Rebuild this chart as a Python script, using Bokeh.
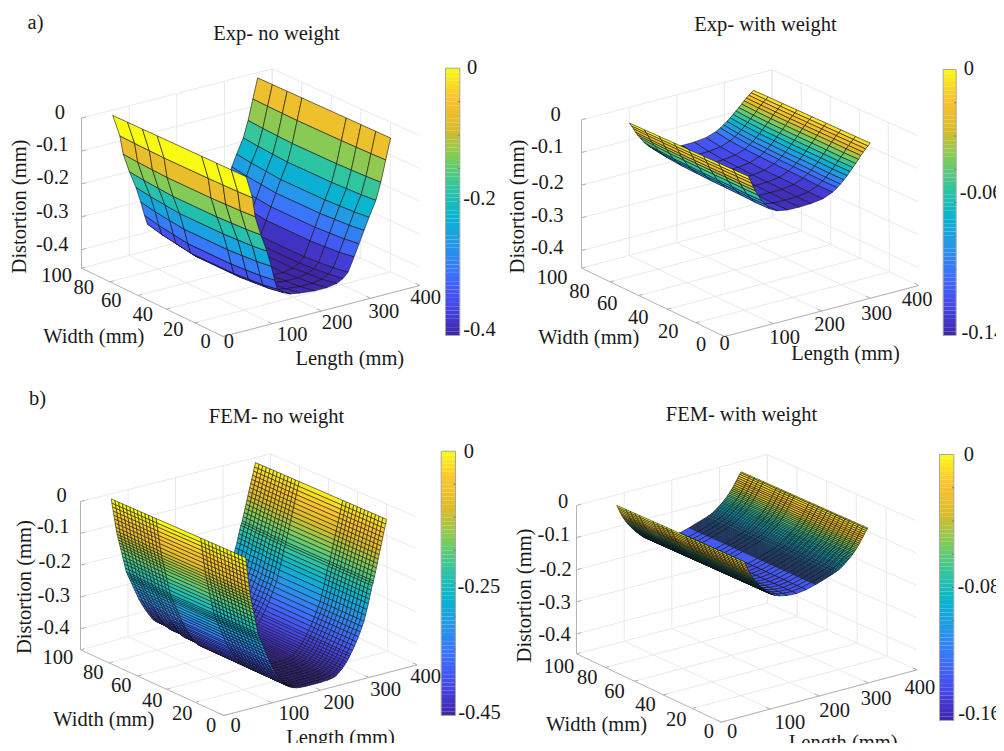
import numpy as np
from bokeh.plotting import figure
from bokeh.models import Range1d, ColumnDataSource
from bokeh.core.properties import value
from bokeh.embed import file_html
from bokeh.resources import INLINE

# ---------- values ----------
z_ticks = [0, -0.1, -0.2, -0.3, -0.4]
z_labels = ["0", "-0.1", "-0.2", "-0.3", "-0.4"]
w_ticks = [100, 80, 60, 40, 20, 0]
l_ticks = [0, 100, 200, 300, 400]

# Exp - no weight
a_L = [50, 65, 72, 85, 99, 109, 117, 123, 135, 150, 170, 200, 225, 245, 258, 268, 280, 290, 300, 310, 324, 334, 344, 354]
a_Z = [0, -.07, -.13, -.19, -.245, -.295, -.34, -.37, -.385, -.395, -.40, -.405, -.405, -.40, -.39, -.375, -.333, -.297, -.26, -.224, -.178, -.127, -.063, 0]
a_W = [5, 15, 25, 35, 65, 75, 85, 95]
a_R = [1.0, 1.02, 1.03, 1.04, 1.04, 1.02, 1.0, .97]

# Exp - with weight
b_L = [54, 58, 62, 66, 70, 76, 84, 92, 102, 118, 140, 165, 190, 215, 235, 245, 252, 259, 266, 272, 278, 284, 290, 295, 300, 305, 310, 315]
b_Z = [0, -.012, -.024, -.038, -.05, -.065, -.085, -.1, -.117, -.129, -.135, -.136, -.135, -.13, -.118, -.108, -.1, -.09, -.08, -.07, -.06, -.05, -.04, -.03, -.022, -.014, -.007, 0]
b_W = [5, 15, 25, 35, 45, 55, 65, 75, 85]
b_R = [1, 1, .98, .97, .96, .94, .92, .88, .82]

# FEM - no weight
c_L = [49, 50.4, 51.8, 53.2, 54.6, 56, 57.4, 58.8, 60.2, 61.6, 63, 64.5, 66, 67.5, 69, 71, 73, 75, 77, 79, 81, 83, 85, 87, 89,
       92, 95, 98, 101, 104, 107, 110, 113, 116, 119, 122, 125, 128, 131, 134, 137, 141, 145, 149, 153, 157, 161, 165, 169,
       173, 177, 181, 185, 189, 193, 197, 201, 205, 209, 213, 217, 221, 225, 229, 233, 237, 241,
       245, 248, 251, 254, 257, 260, 263, 266, 269, 272, 275, 277, 281, 285, 289, 293, 297, 301, 305, 308, 311, 314, 316, 318,
       320, 322, 324, 325, 327, 329, 331, 333, 335, 337, 339, 341, 343, 345, 347, 349, 351, 353]
c_Z = [0, -.014, -.027, -.041, -.055, -.068, -.082, -.096, -.109, -.12, -.13, -.14, -.15, -.16, -.17, -.183, -.197, -.21, -.223, -.237, -.25, -.258, -.266, -.273, -.281,
       -.292, -.304, -.315, -.326, -.337, -.349, -.358, -.368, -.376, -.385, -.393, -.40, -.408, -.415, -.422, -.429, -.435, -.44, -.444, -.448, -.451, -.453, -.455, -.456,
       -.457, -.457, -.458, -.458, -.458, -.458, -.458, -.458, -.458, -.458, -.458, -.458, -.457, -.457, -.457, -.456, -.455, -.454,
       -.452, -.449, -.445, -.441, -.437, -.432, -.427, -.421, -.415, -.408, -.40, -.394, -.384, -.372, -.36, -.346, -.332, -.317, -.302, -.284, -.267, -.25, -.236, -.223,
       -.21, -.197, -.19, -.183, -.17, -.157, -.144, -.131, -.118, -.105, -.092, -.079, -.066, -.053, -.04, -.027, -.014, 0]
c_W = [5, 7.5, 10, 12.5, 15, 17.5, 20, 22.5, 25, 27.5, 30, 32.5, 35, 65, 67.5, 70, 72.5, 75, 77.5, 80, 82.5, 85, 87.5, 90, 92.5, 95]
c_R = [1, 1, 1, 1, 1, 1, 1, 1, 1, 1, 1, 1, 1, 1, .99, .99, .99, .99, .98, .98, .98, .98, .97, .97, .97, .97]

# FEM - with weight
d_L = [53, 55, 57, 59, 61, 63, 65, 67, 69, 71, 73, 75, 77, 79, 81, 83, 85, 87, 89, 91, 93, 95, 97, 99, 101, 103, 105, 107, 109, 111, 113,
       120, 130, 145, 165, 185, 205,
       207, 209, 211, 213, 215, 217, 219, 221, 223, 225, 227, 229, 231, 233, 235, 237, 239, 241, 243, 245, 247, 249, 251, 253, 255, 257, 259,
       261, 263, 265, 267, 269, 271, 273, 275, 277, 279, 281, 283, 285, 287, 289, 291, 293, 295, 297, 299, 301, 303, 305, 307, 309, 311, 313, 315]
d_Z = [0, -.007, -.014, -.021, -.028, -.034, -.04, -.045, -.05, -.055, -.06, -.064, -.068, -.072, -.076, -.08, -.083, -.087, -.09, -.094, -.097, -.1, -.103, -.106, -.109, -.112, -.115, -.118, -.12, -.122, -.124,
       -.13, -.135, -.14, -.142, -.138, -.13,
       -.129, -.128, -.127, -.126, -.125, -.124, -.123, -.122, -.121, -.12, -.119, -.118, -.117, -.116, -.115, -.114, -.113, -.112, -.111, -.109, -.108, -.107, -.105, -.104, -.102, -.1, -.098,
       -.096, -.094, -.091, -.089, -.086, -.084, -.081, -.079, -.076, -.073, -.07, -.067, -.063, -.06, -.056, -.052, -.048, -.044, -.04, -.035, -.03, -.025, -.021, -.016, -.011, -.006, -.002, 0]
d_W = [5, 8, 11, 14, 17, 20, 23, 26, 29, 32, 35, 38, 41, 44, 54, 57, 60, 63, 66, 75, 78, 81, 84, 90]
d_R = [1] * 24

# parula-like colour map, low to high
cmap_rgb = [(62, 38, 168), (71, 71, 235), (62, 111, 255), (39, 150, 235), (8, 181, 208), (49, 198, 159),
            (129, 204, 89), (220, 189, 41), (252, 195, 48), (249, 251, 21)]


def parula(fr):
    fr = np.clip(fr, 0, 1)
    keys = np.linspace(0, 1, len(cmap_rgb))
    arr = np.array(cmap_rgb, float)
    rgb = np.stack([np.interp(fr, keys, arr[:, k]) for k in range(3)], axis=-1).astype(int)
    return ["#%02x%02x%02x" % tuple(c) for c in np.atleast_2d(rgb)]


# ---------- layout (reference positions at 3x, with panel offset) ----------
panels = [
    dict(off=(0, 0), L=a_L, Z=a_Z, W=a_W, R=a_R, cmin=-.408, zb=-.456, lw=.8, la=.75,
         floor=[(668, 1008), (1258, 855), (243, 803), (815, 650)],
         top=[(688, 558), (1258, 405), (243, 353), (815, 205)],
         cb=(1335, 1378, 203, 1005), cbl=[("0", 1415, 200), ("-0.2", 1437, 592), ("-0.4", 1437, 985)],
         zt=[(178, 333), (155, 430), (157, 530), (155, 632), (155, 730)],
         wt=[(168, 822), (250, 860), (332, 898), (427, 940), (518, 985), (615, 1022)],
         lt=[(685, 1020), (875, 1000), (1010, 965), (1150, 930), (1275, 888)],
         wl=(280, 1005), ll=(1048, 1072), dl=(55, 618)),
    dict(off=(500, 0), L=b_L, Z=b_Z, W=b_W, R=b_R, cmin=-.14, zb=-.454, lw=.8, la=.75,
         floor=[(672, 1008), (1255, 855), (243, 803), (815, 650)],
         top=[(690, 558), (1250, 405), (243, 358), (815, 208)],
         cb=(1328, 1367, 207, 1005), cbl=[("0", 1405, 203), ("-0.06", 1442, 575), ("-0.14", 1447, 995)],
         zt=[(165, 340), (140, 437), (142, 543), (140, 643), (140, 740)],
         wt=[(155, 830), (237, 870), (320, 908), (413, 948), (503, 992), (602, 1030)],
         lt=[(672, 1028), (852, 1008), (987, 970), (1128, 938), (1250, 895)],
         wl=(265, 1010), ll=(1035, 1058), dl=(50, 618)),
    dict(off=(0, 380), L=c_L, Z=c_Z, W=c_W, R=c_R, cmin=-.46, zb=-.466, lw=.7, la=.8,
         floor=[(670, 1005), (1250, 853), (240, 808), (810, 650)],
         top=[(690, 560), (1245, 408), (240, 363), (810, 220)],
         cb=(1322, 1365, 212, 1005), cbl=[("0", 1405, 210), ("-0.25", 1435, 617), ("-0.45", 1437, 995)],
         zt=[(183, 342), (158, 437), (163, 540), (160, 642), (158, 738)],
         wt=[(172, 828), (278, 875), (362, 912), (455, 958), (545, 998), (632, 1033)],
         lt=[(705, 1033), (880, 998), (1015, 965), (1155, 925), (1275, 885)],
         wl=(310, 1015), ll=(1020, 1070), dl=(70, 620)),
    dict(off=(500, 380), L=d_L, Z=d_Z, W=d_W, R=d_R, cmin=-.165, zb=-.462, lw=.7, la=.85,
         floor=[(662, 1025), (1250, 868), (228, 820), (800, 668)],
         top=[(680, 575), (1245, 420), (228, 375), (800, 222)],
         cb=(1317, 1360, 222, 1020), cbl=[("0", 1405, 220), ("-0.08", 1435, 615), ("-0.16", 1437, 998)],
         zt=[(188, 362), (160, 460), (165, 565), (162, 665), (162, 760)],
         wt=[(175, 855), (260, 890), (342, 930), (435, 970), (527, 1015), (625, 1050)],
         lt=[(695, 1050), (868, 1025), (1002, 988), (1127, 952), (1258, 920)],
         wl=(288, 1030), ll=(1028, 1083), dl=(70, 645)),
]
titles = [("Exp- no weight", 276, 32), ("Exp- with weight", 765, 23), ("FEM- no weight", 276, 415), ("FEM- with weight", 741, 413)]
letters = [("a)", 35, 21), ("b)", 37, 397)]

FONT = value("Liberation Serif")
p = figure(width=996, height=743, x_range=Range1d(0, 996), y_range=Range1d(743, 0),
           output_backend="svg", toolbar_location=None, min_border=0)
p.axis.visible = False
p.grid.visible = False
p.outline_line_color = None


def text(s, x, y, size=20.5, angle=0.0):
    p.text([x], [y], text=[s], text_font=FONT, text_font_size=f"{size}px", text_align="center",
           text_baseline="middle", text_color="#1a1a1a", angle=angle)


def project(P, L, W, z):
    u, v = np.asarray(L, float) / 400, np.asarray(W, float) / 100
    t = (np.asarray(z, float) - P["zb"]) / (0 - P["zb"])
    out = []
    for k in range(2):
        f = [c[k] for c in P["floor"]]
        g = [c[k] for c in P["top"]]
        lo = (1 - u) * (1 - v) * f[0] + u * (1 - v) * f[1] + (1 - u) * v * f[2] + u * v * f[3]
        hi = (1 - u) * (1 - v) * g[0] + u * (1 - v) * g[1] + (1 - u) * v * g[2] + u * v * g[3]
        out.append((lo + (hi - lo) * t) / 3 + P["off"][k])
    return out


def seg(P, xs, ys, L0, W0, Z0, L1, W1, Z1):
    a = project(P, L0, W0, Z0)
    b = project(P, L1, W1, Z1)
    xs.append([float(a[0]), float(b[0])])
    ys.append([float(a[1]), float(b[1])])


for P in panels:
    zb = P["zb"]
    # back-wall and floor grid
    gx, gy = [], []
    for t in l_ticks[1:]:
        seg(P, gx, gy, t, 100, zb, t, 100, 0)
        seg(P, gx, gy, t, 0, zb, t, 100, zb)
    for t in w_ticks[:-1]:
        seg(P, gx, gy, 400, t, zb, 400, t, 0)
    for t in w_ticks:
        seg(P, gx, gy, 0, t, zb, 400, t, zb)
    for t in z_ticks:
        seg(P, gx, gy, 0, 100, t, 400, 100, t)
        seg(P, gx, gy, 400, 100, t, 400, 0, t)
    p.multi_line(gx, gy, line_color="#e9e9e9", line_width=1)
    # axis lines and ticks
    ax, ay = [], []
    seg(P, ax, ay, 0, 0, zb, 400, 0, zb)
    seg(P, ax, ay, 0, 0, zb, 0, 100, zb)
    seg(P, ax, ay, 0, 100, zb, 0, 100, 0)
    for t in l_ticks:
        seg(P, ax, ay, t, 0, zb, t, 3, zb)
    for t in w_ticks:
        seg(P, ax, ay, 0, t, zb, 8, t, zb)
    for t in z_ticks:
        seg(P, ax, ay, 0, 100, t, 10, 100, t)
    p.multi_line(ax, ay, line_color="#b4b4b4", line_width=1)

    # surface: far faces first, coloured MATLAB-style from the low-index vertex
    Ls, Ws, Z0 = np.array(P["L"], float), np.array(P["W"], float), np.array(P["Z"], float)
    Z = np.outer(Z0, np.array(P["R"], float))
    fx, fy, fc = [], [], []
    for i in range(len(Ls) - 2, -1, -1):
        for j in range(len(Ws) - 2, -1, -1):
            ii = [i, i + 1, i + 1, i]
            jj = [j, j, j + 1, j + 1]
            x, y = project(P, Ls[ii], Ws[jj], Z[ii, jj])
            fx.append(x.tolist())
            fy.append(y.tolist())
            fc.append(parula(np.array([1 - Z[i, j] / P["cmin"]]))[0])
    p.patches(fx, fy, fill_color=fc, line_color="#101010", line_alpha=P["la"], line_width=P["lw"])

    # colour bar
    xa, xb, ya, yb = P["cb"]
    ox, oy = P["off"]
    lev = np.linspace(0, 1, 65)
    ytop = (ya + (yb - ya) * lev[:-1]) / 3 + oy
    ybot = (ya + (yb - ya) * lev[1:]) / 3 + oy
    p.quad(left=xa / 3 + ox, right=xb / 3 + ox, top=ytop, bottom=ybot, fill_color=parula(1 - (lev[:-1] + lev[1:]) / 2), line_color=None)
    p.quad(left=[xa / 3 + ox], right=[xb / 3 + ox], top=[ya / 3 + oy], bottom=[yb / 3 + oy], fill_color=None, line_color="#a8a8a0", line_width=1)
    mt = (ya + (yb - ya) * np.linspace(0, 1, 9)[1:-1]) / 3 + oy
    p.segment(x0=xb / 3 + ox - 2, x1=xb / 3 + ox, y0=mt, y1=mt, line_color="#777777", line_width=1)
    for s, x, y in P["cbl"]:
        text(s, x / 3 + ox, y / 3 + oy)

    for s, (x, y) in zip(z_labels, P["zt"]):
        text(s, x / 3 + ox, y / 3 + oy)
    for s, (x, y) in zip(w_ticks, P["wt"]):
        text(str(s), x / 3 + ox, y / 3 + oy)
    for s, (x, y) in zip(l_ticks, P["lt"]):
        text(str(s), x / 3 + ox, y / 3 + oy)
    text("Width (mm)", P["wl"][0] / 3 + ox, P["wl"][1] / 3 + oy)
    text("Length (mm)", P["ll"][0] / 3 + ox, P["ll"][1] / 3 + oy)
    text("Distortion (mm)", P["dl"][0] / 3 + ox, P["dl"][1] / 3 + oy, angle=np.pi / 2)

for s, x, y in titles + letters:
    text(s, x, y)

open("out.html", "w").write(file_html(p, INLINE))
